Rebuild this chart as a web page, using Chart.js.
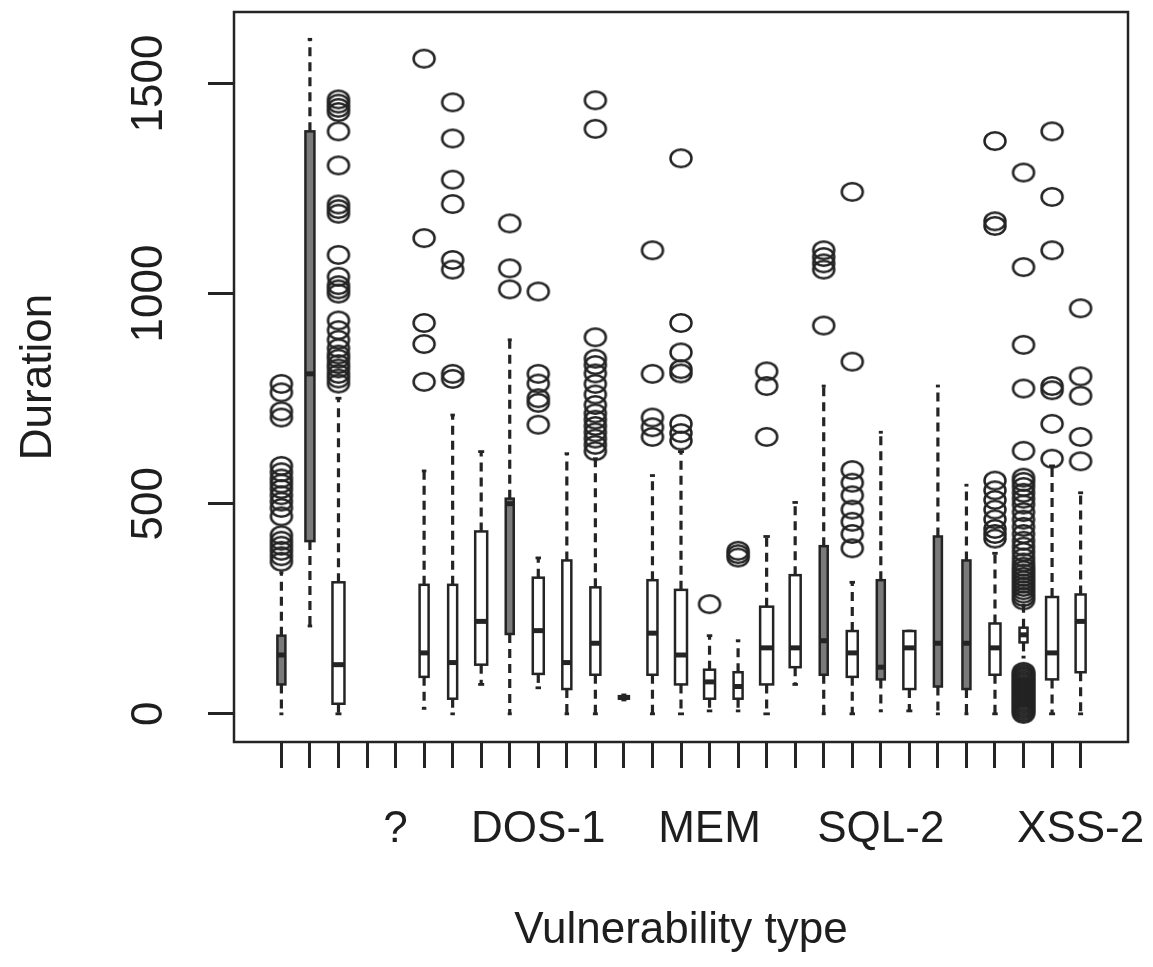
<!DOCTYPE html>
<html>
<head>
<meta charset="utf-8">
<script src="https://cdn.jsdelivr.net/npm/chart.js@4/dist/chart.umd.min.js"></script>
<style>
  html, body { margin: 0; padding: 0; background: #fff; }
  #wrap { width: 1153px; height: 967px; }
</style>
</head>
<body>
<div id="wrap"><canvas id="chart-box" width="1153" height="967"></canvas></div>
<script>
// one entry per vulnerability type (29 groups); only the labels R had room for are shown
const tickLabels = ['', '', '', '', '?', '', '', '', '', 'DOS-1', '', '', '', '', '', 'MEM',
  '', '', '', '', '', 'SQL-2', '', '', '', '', '', '', 'XSS-2'];

// five-number summaries (null = empty group)
const whiskerLow = [0, 209, 0, null, null, 13, 0, 70, 0, 62, 0, 0, 33, 0, 0, 7, 7, 0, 70, 0, 0, 7, 7, 0, 0, 0, 135, 0, 0];
const quartile1 = [70, 411, 24, null, null, 88, 36, 117, 190, 95, 59, 93, 36, 93, 70, 36, 36, 70, 111, 93, 88, 82, 59, 65, 59, 93, 170, 82, 99];
const medians = [140, 809, 117, null, null, 145, 122, 220, 500, 198, 122, 168, 39, 192, 140, 76, 65, 157, 157, 174, 145, 111, 157, 168, 168, 157, 188, 145, 220];
const quartile3 = [186, 1386, 313, null, null, 307, 307, 434, 512, 324, 365, 301, 42, 318, 295, 105, 99, 255, 330, 399, 197, 318, 197, 422, 365, 215, 205, 278, 284];
const whiskerHigh = [336, 1605, 751, null, null, 578, 711, 624, 890, 371, 619, 607, 45, 567, 624, 186, 174, 422, 503, 780, 313, 670, 197, 780, 544, 382, 258, 590, 526];

const outliers = [
  [362, 375, 388, 400, 412, 425, 470, 490, 505, 520, 535, 548, 560, 575, 590, 705, 720, 765, 785],
  [],
  [786, 798, 809, 822, 832, 845, 855, 870, 890, 913, 936, 1000, 1010, 1020, 1040, 1092, 1190, 1201, 1212, 1305, 1386, 1432, 1442, 1452, 1462],
  [],
  [],
  [790, 880, 930, 1132, 1559],
  [797, 809, 1057, 1080, 1213, 1271, 1369, 1455],
  [],
  [1010, 1060, 1167],
  [688, 740, 751, 786, 809, 1005],
  [],
  [625, 640, 655, 670, 685, 700, 715, 735, 760, 785, 810, 830, 845, 896, 1392, 1460],
  [],
  [659, 682, 705, 809, 1103],
  [650, 668, 690, 810, 820, 860, 930, 1322],
  [261],
  [372, 380, 388],
  [659, 780, 815],
  [],
  [924, 1057, 1072, 1087, 1103],
  [394, 428, 457, 486, 520, 550, 580, 838, 1242],
  [],
  [],
  [],
  [],
  [417, 428, 440, 463, 486, 509, 532, 555, 1161, 1172, 1363],
  [0, 4, 8, 12, 16, 20, 24, 28, 32, 36, 40, 44, 48, 52, 56, 60, 64, 68, 72, 76, 80, 84, 88, 92, 96, 100,
   270, 278, 286, 294, 302, 310, 318, 326, 334, 342, 350, 360, 372, 385, 398, 412, 428, 445, 462, 480, 498,
   512, 526, 540, 552, 562, 626, 774, 878, 1063, 1288],
  [607, 690, 770, 780, 1103, 1230, 1386],
  [601, 659, 757, 803, 965]
];

const yTicks = [0, 500, 1000, 1500];

// drawing style
const INK = '#242424';
const FONT = "'Liberation Sans', Arial, sans-serif";
const BOX_W = [8, 9, 12, 0, 0, 9, 9, 12, 8, 11, 9, 10, 10, 10, 12, 11, 9, 13, 11, 8, 11, 8, 12, 8, 8, 11, 8, 12, 10];
const GRAY_BOXES = [1, 2, 9, 20, 22, 24, 25];

window.addEventListener('DOMContentLoaded', () => {
  Chart.defaults.font.family = FONT;

  const ctx = document.getElementById('chart-box');

  const outlierPoints = [];
  outliers.forEach((list, i) => {
    for (const v of list) {
      outlierPoints.push({ x: i + 1, y: v });
    }
  });

  function makeRing() {
    const c = document.createElement('canvas');
    c.width = 28;
    c.height = 24;
    const g = c.getContext('2d');
    g.strokeStyle = INK;
    g.lineWidth = 2.5;
    g.beginPath();
    g.ellipse(14, 12, 10.5, 8.8, 0, 0, Math.PI * 2);
    g.stroke();
    return c;
  }

  function seg(c, x1, y1, x2, y2) {
    c.beginPath();
    c.moveTo(x1, y1);
    c.lineTo(x2, y2);
    c.stroke();
  }

  const boxPlugin = {
    id: 'boxes',
    beforeDatasetsDraw(chart) {
      const { ctx: c, scales: { x, y }, chartArea: a } = chart;
      c.save();
      c.strokeStyle = INK;

      // plot frame
      c.lineWidth = 2.5;
      c.strokeRect(a.left, a.top, a.right - a.left, a.bottom - a.top);

      tickLabels.forEach((_, i) => {
        if (quartile1[i] == null) return;
        const cx = x.getPixelForValue(i + 1);
        const half = BOX_W[i] / 2;
        const yLo = y.getPixelForValue(whiskerLow[i]);
        const yQ1 = y.getPixelForValue(quartile1[i]);
        const yMed = y.getPixelForValue(medians[i]);
        const yQ3 = y.getPixelForValue(quartile3[i]);
        const yHi = y.getPixelForValue(whiskerHigh[i]);

        c.lineWidth = 3.2;
        c.setLineDash([9, 6]);
        if (yHi < yQ3) seg(c, cx, yQ3, cx, yHi);
        if (yLo > yQ1) seg(c, cx, yQ1, cx, yLo);
        c.setLineDash([]);
        c.lineWidth = 2.8;
        seg(c, cx - half / 2, yHi, cx + half / 2, yHi);
        seg(c, cx - half / 2, yLo, cx + half / 2, yLo);

        c.lineWidth = 2.5;
        c.fillStyle = GRAY_BOXES.includes(i + 1) ? '#7a7a7a' : '#ffffff';
        c.fillRect(cx - half, yQ3, half * 2, yQ1 - yQ3);
        c.strokeRect(cx - half, yQ3, half * 2, yQ1 - yQ3);

        c.lineWidth = 5;
        seg(c, cx - half, yMed, cx + half, yMed);
      });
      c.restore();
    }
  };

  new Chart(ctx, {
    type: 'scatter',
    data: {
      datasets: [
        {
          label: 'Outliers',
          data: outlierPoints,
          pointStyle: makeRing(),
          radius: 10,
          hoverRadius: 10
        }
      ]
    },
    options: {
      responsive: false,
      animation: false,
      layout: {
        padding: { top: 12, right: 25, left: 0, bottom: 0 }
      },
      plugins: {
        legend: { display: false },
        tooltip: { enabled: false }
      },
      scales: {
        x: {
          type: 'linear',
          min: -0.66,
          max: 30.66,
          afterBuildTicks: (s) => {
            s.ticks = tickLabels.map((_, i) => ({ value: i + 1 }));
          },
          afterFit: (s) => {
            s.height = 225;
            s.paddingLeft = 0;
            s.paddingRight = 0;
          },
          grid: { drawOnChartArea: false, tickLength: 26, tickWidth: 3, tickColor: INK },
          border: { display: false },
          ticks: {
            autoSkip: false,
            minRotation: 0,
            maxRotation: 0,
            padding: 35,
            color: '#1e1e1e',
            font: { size: 44 },
            callback: (v) => tickLabels[v - 1] ?? ''
          },
          title: {
            display: true,
            text: 'Vulnerability type',
            color: '#1e1e1e',
            font: { size: 44 },
            padding: { top: 0, bottom: 10 }
          }
        },
        y: {
          min: -67,
          max: 1670,
          afterBuildTicks: (s) => {
            s.ticks = yTicks.map((v) => ({ value: v }));
          },
          afterFit: (s) => {
            s.width = 234;
            s.paddingTop = 0;
            s.paddingBottom = 0;
          },
          grid: { drawOnChartArea: false, tickLength: 26, tickWidth: 3, tickColor: INK },
          border: { display: false },
          ticks: {
            minRotation: 90,
            maxRotation: 90,
            crossAlign: 'center',
            padding: 9,
            color: '#1e1e1e',
            font: { size: 44 },
            callback: (v) => String(v)
          },
          title: {
            display: true,
            text: 'Duration',
            color: '#1e1e1e',
            font: { size: 44 },
            padding: { top: 12, bottom: 0 }
          }
        }
      }
    },
    plugins: [boxPlugin]
  });
});
</script>
</body>
</html>
